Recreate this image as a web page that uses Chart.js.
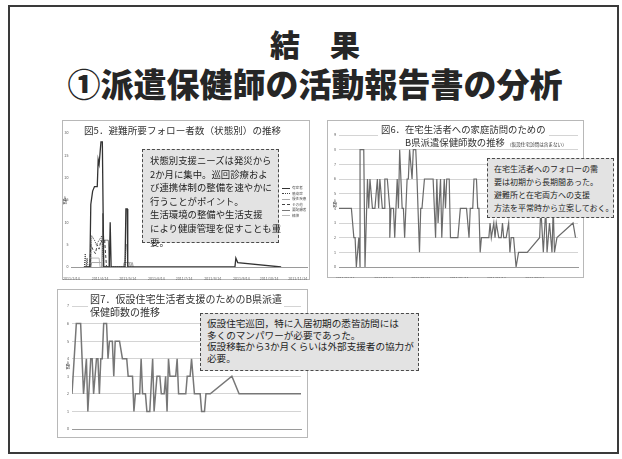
<!DOCTYPE html>
<html lang="ja">
<head>
<meta charset="utf-8">
<script src="https://cdn.jsdelivr.net/npm/chart.js@4.4.1/dist/chart.umd.min.js"></script>
<style>
  html, body { margin: 0; padding: 0; background: #fff; }
  body { width: 622px; height: 459px; position: relative; overflow: hidden; font-family: "Noto Sans CJK JP", "Noto Sans", sans-serif; color: #222; }
  .slide { position: absolute; left: 8px; top: 5px; width: 607px; height: 445px; border: 2px solid #3a3a3a; }
  .head { position: absolute; left: 0; width: 630px; text-align: center; font-weight: 900; line-height: 1; color: #262626; white-space: nowrap; }
  .frame { position: absolute; border: 1.5px solid #b8b8b8; background: #fff; }
  .wrap { position: absolute; }
  .ctitle { position: absolute; background: #fff; color: #333; line-height: 1.25; white-space: nowrap; }
  .note { position: absolute; background: #e3e3e3; border: 1.5px dashed #4a4a4a; color: #1e1e1e; white-space: nowrap; box-sizing: border-box; }
  .ylab { position: absolute; font-size: 4.5px; color: #444; writing-mode: vertical-rl; }
  .legend { position: absolute; font-size: 3.6px; color: #555; line-height: 5.6px; }
  .legend span.sw { display: inline-block; width: 8px; height: 0; vertical-align: middle; margin-right: 2px; }
</style>
</head>
<body>
<div class="slide"></div>
<div class="head" style="top:28px;font-size:30px;">結　果</div>
<div class="head" style="top:67px;font-size:33px;">①派遣保健師の活動報告書の分析</div>

<div class="frame" style="left:62px;top:120px;width:246px;height:158px;"></div>
<div class="frame" style="left:327px;top:120px;width:255px;height:156px;"></div>
<div class="frame" style="left:57px;top:289px;width:249px;height:147px;"></div>

<div class="wrap" style="left:62px;top:120px;width:248px;height:160px;"><canvas id="fig5"></canvas></div>
<div class="wrap" style="left:327px;top:120px;width:257px;height:158px;"><canvas id="fig6"></canvas></div>
<div class="wrap" style="left:57px;top:289px;width:251px;height:149px;"><canvas id="fig7"></canvas></div>

<div class="ctitle" style="left:82px;top:124px;font-size:9.6px;padding:0 2px;">図5．避難所要フォロー者数（状態別）の推移</div>
<div class="ctitle" style="left:378px;top:124px;font-size:9.4px;padding:0 3px;">図6．在宅生活者への家庭訪問のための</div>
<div class="ctitle" style="left:403px;top:137px;font-size:9.4px;padding:0 3px 0 2px;">B県派遣保健師数の推移 <span style="font-size:4.6px;">（仮設住宅訪問は含まない）</span></div>
<div class="ctitle" style="left:88px;top:293px;font-size:10px;padding:0 2px;">図7．仮設住宅生活者支援のためのB県派遣<br>保健師数の推移</div>

<div class="ylab" style="left:62px;top:195px;">人数</div>
<div class="ylab" style="left:332px;top:198px;">人数</div>
<div class="ylab" style="left:65px;top:360px;">人数</div>

<div class="legend" id="legend5" style="left:282px;top:185px;"></div>

<div class="note" style="left:142px;top:149px;width:137px;height:94px;padding:4px 0 0 7px;font-size:9.4px;line-height:13.6px;">状態別支援ニーズは発災から<br>2か月に集中。巡回診療およ<br>び連携体制の整備を速やかに<br>行うことがポイント。<br>生活環境の整備や生活支援<br>により健康管理を促すことも重<br>要。</div>
<div class="note" style="left:487px;top:158px;width:127px;height:60px;padding:3px 0 0 6px;font-size:8px;line-height:13px;">在宅生活者へのフォローの需<br>要は初期から長期間あった。<br>避難所と在宅両方への支援<br>方法を平常時から立案しておく。</div>
<div class="note" style="left:200px;top:313px;width:219px;height:58px;padding:4px 0 0 6px;font-size:9.6px;line-height:11.7px;">仮設住宅巡回，特に入居初期の悉皆訪問には<br>多くのマンパワーが必要であった。<br>仮設移転から3か月くらいは外部支援者の協力が<br>必要。</div>

<script>
// 図5 x = days after 2011/3/14
const tickLabels5 = ['2011/3/14', '2011/4/14', '2011/5/14', '2011/6/14', '2011/7/14', '2011/8/14', '2011/9/14', '2011/10/14', '2011/11/14'];
const tickDays5 = [0, 31, 61, 92, 122, 153, 184, 214, 245];
const names5 = ['有症者', '感染症', '慢性疾患', 'その他', '要配慮者', '精神'];

const daysA = [14, 20, 21, 23, 25, 28, 29, 30, 32, 33.5, 35, 36, 41, 42, 43, 56, 58, 59, 60.5, 61, 177, 178, 180, 227];
const valsA = [0, 0, 14, 17, 18, 18, 24, 23, 28, 28, 0, 0, 0, 10, 0, 0, 0, 13, 13, 0, 0, 2, 1, 0];
const daysB = [14, 15, 16, 17, 18, 21, 22, 25, 27, 30, 33, 34, 35, 58, 59, 60, 61];
const valsB = [0, 3, 0, 2, 0, 0, 7, 6, 5, 6, 7, 3, 0, 0, 5, 5, 0];
const daysC = [21, 22, 33, 34, 56, 57, 63, 64, 66, 67];
const valsC = [0, 1, 1, 0, 0, 1, 1, 0, 1, 0];
const daysD = [20, 21, 23, 26, 28, 30, 32, 34, 36, 38];
const valsD = [0, 5, 4, 3, 5, 4, 6, 5, 6, 0];
const daysE = [33, 34, 35, 36, 38, 40, 41, 42];
const valsE = [0, 12, 6, 6, 6, 6, 0, 0];
const daysF = [20, 21, 30, 31, 62, 63, 65, 66];
const valsF = [0, 2, 2, 0, 0, 1, 1, 0];

// 図6 x = days after 2011/3/14
const tickLabels6 = ['2011/03/14', '2011/04/14', '2011/05/14', '2011/06/14', '2011/07/14', '2011/08/14'];
const tickDays6 = [0, 31, 61, 92, 122, 153];
const days6 = [-5, 5, 7, 8, 9, 11, 12, 12, 15, 16, 18, 19, 20, 22, 24, 26, 27, 28, 30, 32, 32, 34, 36, 36, 37, 39, 40, 42, 43, 44, 46, 47, 48, 50, 51, 52, 54, 55, 57, 58, 60, 61, 62, 64, 71, 73, 74, 75, 77, 78, 80, 81, 82, 84, 85, 91, 93, 98, 100, 101, 103, 104, 106, 107, 108, 109, 110, 116, 117, 118, 120, 121, 122, 124, 126, 127, 128, 130, 132, 133, 134, 136, 137, 138, 140, 147, 157, 158, 160, 162, 163, 164, 165, 167, 168, 169, 171, 184, 186];
const vals6 = [4, 4, 2, 2, 0, 2, 0, 8, 8, 0, 6, 4, 6, 4, 4, 6, 4, 6, 4, 4, 6, 6, 4, 2, 4, 4, 2, 6, 4, 8, 4, 4, 2, 6, 6, 8, 6, 8, 8, 6, 1, 4, 4, 6, 6, 2, 6, 3, 6, 2, 6, 4, 6, 6, 2, 2, 4, 4, 2, 4, 4, 6, 6, 4, 4, 1, 2, 2, 3, 2, 3, 2, 3, 2, 2, 3, 2, 2, 3, 1, 2, 2, 1, 0, 1, 1, 2, 4, 1, 4, 1, 2, 3, 1, 4, 1, 2, 3, 2];

// 図7 x = days after 2011/7/25
const tickLabels7 = ['2011/7/25', '2011/8/1', '2011/8/8', '2011/8/15', '2011/8/22', '2011/8/29', '2011/9/5', '2011/9/12', '2011/9/19', '2011/9/26', '2011/10/3', '2011/10/10', '2011/10/17', '2011/10/24', '2011/10/31', '2011/11/7', '2011/11/14', '2011/11/21', '2011/11/28', '2011/12/5', '2011/12/12', '2011/12/19', '2011/12/26'];
const tickDays7 = [0, 7, 14, 21, 28, 35, 42, 49, 56, 63, 70, 77, 84, 91, 98, 105, 112, 119, 126, 133, 140, 147, 154];
const days7 = [0, 3, 6, 8, 10, 11, 13, 14, 15, 17, 18, 19, 20, 21, 22, 24, 25, 26, 28, 29, 30, 33, 35, 38, 39, 42, 43, 44, 47, 48, 49, 51, 52, 54, 56, 57, 58, 59, 61, 62, 64, 65, 66, 67, 68, 72, 73, 74, 79, 80, 82, 83, 85, 89, 90, 92, 93, 96, 111, 116, 159];
const vals7 = [2, 6, 6, 2, 4, 1, 4, 4, 2, 4, 4, 2, 4, 4, 6, 6, 4, 5, 5, 3, 5, 5, 4, 4, 3, 3, 1, 2, 2, 4, 2, 2, 1, 1, 4, 1, 2, 3, 3, 2, 2, 3, 1, 4, 3, 3, 4, 2, 2, 3, 3, 4, 2, 2, 1, 1, 2, 2, 3, 2, 2];

const pts = (xs, ys) => xs.map((x, i) => ({ x: x, y: ys[i] }));
const tiny = { family: 'Noto Sans CJK JP', size: 3.6 };

function xAxis(min, max, days, labels, h, rot) {
  return {
    type: 'linear', min: min, max: max,
    grid: { display: false },
    border: { display: true, color: '#9a9a9a' },
    afterBuildTicks: (s) => { s.ticks = days.map(d => ({ value: d })); },
    afterFit: (s) => { s.height = h; },
    ticks: {
      autoSkip: false, minRotation: rot, maxRotation: rot, padding: 1,
      color: '#666', font: tiny,
      callback: (v, i) => labels[i]
    }
  };
}

function yAxis(max, step, w, grid) {
  return {
    min: 0, max: max,
    grid: { display: grid, color: '#d4d4d4', drawTicks: false },
    border: { display: false },
    afterFit: (s) => { s.width = w; },
    ticks: { stepSize: step, padding: 3, color: '#555', font: tiny }
  };
}

const common = {
  responsive: true,
  maintainAspectRatio: false,
  animation: false,
  plugins: { legend: { display: false }, tooltip: { enabled: false } },
  elements: { point: { radius: 0 }, line: { tension: 0 } }
};

const styles5 = [
  { borderColor: '#333', borderWidth: 1.3, borderDash: [] },
  { borderColor: '#444', borderWidth: 1, borderDash: [1, 1] },
  { borderColor: '#aaa', borderWidth: 1, borderDash: [] },
  { borderColor: '#444', borderWidth: 1, borderDash: [3, 2] },
  { borderColor: '#777', borderWidth: 1, borderDash: [] },
  { borderColor: '#bbb', borderWidth: 1, borderDash: [] }
];
const series5 = [pts(daysA, valsA), pts(daysB, valsB), pts(daysC, valsC), pts(daysD, valsD), pts(daysE, valsE), pts(daysF, valsF)];

new Chart(document.getElementById('fig5'), {
  type: 'line',
  data: {
    datasets: series5.map((d, i) => Object.assign({ label: names5[i], data: d }, styles5[i]))
  },
  options: Object.assign({}, common, {
    layout: { padding: { left: 0, right: 3, top: 13, bottom: 0 } },
    scales: {
      x: xAxis(0, 255, tickDays5, tickLabels5, 13, 0),
      y: yAxis(30, 5, 8, false)
    }
  })
});

// legend for 図5
const lg = document.getElementById('legend5');
names5.forEach((n, i) => {
  const st = styles5[i];
  const kind = st.borderDash.length ? (st.borderDash[0] === 1 ? 'dotted' : 'dashed') : 'solid';
  lg.innerHTML += '<div><span class="sw" style="border-top:1px ' + kind + ' ' + st.borderColor + '"></span>' + n + '</div>';
});

new Chart(document.getElementById('fig6'), {
  type: 'line',
  data: {
    datasets: [{ label: '人数', data: pts(days6, vals6), borderColor: '#6a6a6a', borderWidth: 1.2 }]
  },
  options: Object.assign({}, common, {
    layout: { padding: { left: 0, right: 6, top: 15, bottom: 0 } },
    scales: {
      x: xAxis(-5, 188, tickDays6, tickLabels6, 11, 0),
      y: yAxis(9, 1, 12, true)
    }
  })
});

new Chart(document.getElementById('fig7'), {
  type: 'line',
  data: {
    datasets: [{ label: '人数', data: pts(days7, vals7), borderColor: '#777', borderWidth: 1.5 }]
  },
  options: Object.assign({}, common, {
    layout: { padding: { left: 0, right: 7, top: 17, bottom: 0 } },
    scales: {
      x: xAxis(0, 159, tickDays7, tickLabels7, 9, 45),
      y: yAxis(7, 1, 15, true)
    }
  })
});
</script>
</body>
</html>
